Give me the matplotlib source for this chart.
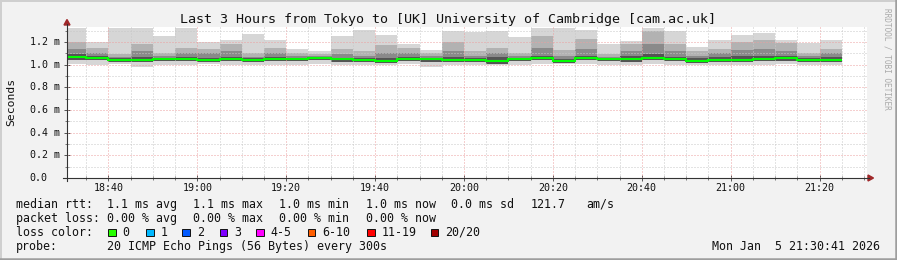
import matplotlib
matplotlib.use("Agg")
import matplotlib.pyplot as plt
from matplotlib.patches import Rectangle, Polygon
from matplotlib.lines import Line2D
import matplotlib.transforms as mtransforms

# ---------------- data (ms) ----------------
# time in minutes after 18:00 ; first bin partial (starts at 18:30:41)
bin_edges = [30.683, 35, 40, 45, 50, 55, 60, 65, 70, 75, 80, 85, 90, 95, 100, 105, 110,
             115, 120, 125, 130, 135, 140, 145, 150, 155, 160, 165, 170, 175, 180, 185,
             190, 195, 200, 205]
rtt_max = [1.32, 1.20, 1.32, 1.32, 1.25, 1.32, 1.20, 1.22, 1.27, 1.22, 1.14, 1.12, 1.25, 1.31,
           1.26, 1.18, 1.13, 1.30, 1.29, 1.30, 1.24, 1.32, 1.32, 1.31, 1.18, 1.21, 1.32, 1.30,
           1.16, 1.22, 1.26, 1.28, 1.22, 1.19, 1.22]
rtt_p90 = [1.20, 1.15, 1.09, 1.18, 1.10, 1.15, 1.14, 1.18, 1.10, 1.15, 1.10, 1.09, 1.14, 1.12,
           1.17, 1.15, 1.10, 1.20, 1.12, 1.15, 1.10, 1.25, 1.13, 1.23, 1.09, 1.18, 1.30, 1.18,
           1.12, 1.14, 1.20, 1.22, 1.19, 1.10, 1.14]
rtt_p75 = [1.14, 1.10, 1.07, 1.12, 1.08, 1.10, 1.10, 1.12, 1.07, 1.10, 1.08, 1.075, 1.09, 1.08,
           1.10, 1.10, 1.08, 1.12, 1.08, 1.10, 1.08, 1.15, 1.08, 1.14, 1.07, 1.12, 1.18, 1.12,
           1.08, 1.10, 1.13, 1.14, 1.12, 1.08, 1.10]
rtt_p60 = [1.09, 1.08, 1.055, 1.07, 1.06, 1.065, 1.06, 1.07, 1.055, 1.065, 1.06, 1.065, 1.06, 1.055,
           1.06, 1.07, 1.06, 1.07, 1.06, 1.07, 1.06, 1.08, 1.05, 1.08, 1.06, 1.08, 1.09, 1.07,
           1.06, 1.07, 1.08, 1.08, 1.08, 1.06, 1.07]
rtt_median = [1.07, 1.062, 1.045, 1.045, 1.05, 1.05, 1.04, 1.05, 1.045, 1.05, 1.05, 1.06, 1.046, 1.04,
              1.036, 1.05, 1.05, 1.04, 1.045, 1.03, 1.05, 1.06, 1.03, 1.06, 1.05, 1.05, 1.06, 1.05,
              1.036, 1.045, 1.045, 1.05, 1.06, 1.045, 1.045]
rtt_p25 = [1.045, 1.04, 1.025, 1.02, 1.03, 1.03, 1.02, 1.03, 1.025, 1.03, 1.03, 1.04, 1.025, 1.02,
           1.015, 1.03, 1.025, 1.02, 1.025, 1.01, 1.03, 1.04, 1.015, 1.04, 1.03, 1.025, 1.04, 1.03,
           1.015, 1.025, 1.025, 1.03, 1.035, 1.025, 1.025]
rtt_min = [1.01, 1.0, 1.01, 0.98, 0.995, 0.995, 1.005, 1.0, 0.995, 0.995, 0.995, 1.01, 0.995, 0.995,
           1.0, 1.005, 0.98, 0.995, 1.0, 0.995, 1.0, 1.005, 1.005, 1.01, 0.995, 0.995, 1.01, 1.0,
           1.0, 0.995, 1.0, 1.0, 1.005, 0.995, 0.995]

x_major = [40, 60, 80, 100, 120, 140, 160, 180, 200]
x_labels = ["18:40", "19:00", "19:20", "19:40", "20:00", "20:20", "20:40", "21:00", "21:20"]
y_major = [0.0, 0.2, 0.4, 0.6, 0.8, 1.0, 1.2]
y_labels = ["0.0", "0.2 m", "0.4 m", "0.6 m", "0.8 m", "1.0 m", "1.2 m"]

loss_labels = ["0", "1", "2", "3", "4-5", "6-10", "11-19", "20/20"]
loss_colors = ["#26ff00", "#00b8ff", "#0059ff", "#7e00ff", "#ff00ff", "#ff5e00", "#ff0000", "#a10000"]

# ---------------- figure ----------------
W, H = 897, 260
BG = "#f2f2f2"
MONO = "DejaVu Sans Mono"
fig = plt.figure(figsize=(W / 100, H / 100), dpi=100, facecolor=BG)

def fx(px):
    return px / W

def fy(py):
    return 1 - py / H

ax_l, ax_r, ax_t, ax_b = 67, 867, 27, 178
ax = fig.add_axes([fx(ax_l), fy(ax_b), (ax_r - ax_l) / W, (ax_b - ax_t) / H])
ax.set_facecolor("white")
ax.set_xlim(30.683, 210.683)
ax.set_ylim(0, (ax_b - ax_t) / (136 / 1.2))
for s in ax.spines.values():
    s.set_visible(False)

# smoke layers
ax.stairs(rtt_max, bin_edges, baseline=rtt_min, fill=True, color="#d6d6d6", lw=0, zorder=2)
ax.stairs(rtt_p90, bin_edges, baseline=rtt_p25, fill=True, color="#b2b2b2", lw=0, zorder=3)
ax.stairs(rtt_p75, bin_edges, baseline=rtt_p25, fill=True, color="#8a8a8a", lw=0, zorder=4)
ax.stairs(rtt_p60, bin_edges, baseline=rtt_p25, fill=True, color="#545454", lw=0, zorder=5)

# grid
gkw = dict(lw=0.72, dashes=(1, 2))
for m in range(35, 211, 5):
    if m in x_major:
        ax.axvline(m, color="#eda0a0", zorder=6, **gkw)
    else:
        ax.axvline(m, color="#c8c8c8", zorder=6, **gkw)
for i in range(1, 14):
    v = i / 10
    if i % 2 == 0:
        ax.axhline(v, color="#eda0a0", zorder=6, **gkw)
    else:
        ax.axhline(v, color="#c8c8c8", zorder=6, **gkw)

# median line
ax.stairs(rtt_median, bin_edges, baseline=None, color="#00ff00", lw=1.5, zorder=8)

# ticks
ax.set_xticks(x_major, labels=x_labels)
ax.set_xticks(list(range(35, 211, 5)), minor=True)
ax.set_yticks(y_major, labels=[""] * len(y_major))
ax.set_yticks([0.1, 0.3, 0.5, 0.7, 0.9, 1.1, 1.3], minor=True)
ax.tick_params(axis="both", which="major", direction="inout", length=4, width=0.7, color="#555555")
ax.tick_params(axis="both", which="minor", direction="inout", length=2.5, width=0.7, color="#777777")
ax.tick_params(axis="x", which="major", pad=1.5, labelsize=7.2, labelcolor="#111111")
for t in ax.get_xticklabels():
    t.set_fontfamily(MONO)

ytr = mtransforms.blended_transform_factory(fig.transFigure, ax.transData)
for v, lab in zip(y_major, y_labels):
    ax.text(fx(29.5), v, lab, transform=ytr, ha="left", va="center",
            fontsize=7.2, family=MONO, color="#111111")

# axis lines & arrows
fig.add_artist(Line2D([fx(67), fx(67)], [fy(181), fy(24)], color="#333333", lw=0.8))
fig.add_artist(Line2D([fx(63), fx(869)], [fy(178), fy(178)], color="#333333", lw=0.8))
arrow_c = "#a0282a"
fig.add_artist(Polygon([[fx(64), fy(25)], [fx(70), fy(25)], [fx(67), fy(19.5)]],
                       closed=True, color=arrow_c, transform=fig.transFigure))
fig.add_artist(Polygon([[fx(868), fy(175)], [fx(868), fy(181)], [fx(873.5), fy(178)]],
                       closed=True, color=arrow_c, transform=fig.transFigure))

# title & labels
fig.text(fx(448), fy(19.5), "Last 3 Hours from Tokyo to [UK] University of Cambridge [cam.ac.uk]",
         ha="center", va="center", fontsize=9.6, family=MONO, color="#111111")
fig.text(fx(11), fy(102), "Seconds", rotation=90, ha="center", va="center",
         fontsize=8.2, family=MONO, color="#111111")
fig.text(fx(886.5), fy(59), "RRDTOOL / TOBI OETIKER", rotation=270, ha="center", va="center",
         fontsize=5.6, family=MONO, color="#aaaaaa")

# legend
tkw = dict(ha="left", va="center", fontsize=8.4, family=MONO, color="#111111")
line1 = [(16, "median rtt:"), (107.3, "1.1 ms avg"), (193.3, "1.1 ms max"), (279.3, "1.0 ms min"),
         (365.7, "1.0 ms now"), (451, "0.0 ms sd"), (530.7, "121.7"), (586.7, "am/s")]
line2 = [(16, "packet loss:"), (107.3, "0.00 % avg"), (193.3, "0.00 % max"), (279.3, "0.00 % min"),
         (365.7, "0.00 % now")]
for x, s in line1:
    fig.text(fx(x), fy(204.3), s, **tkw)
for x, s in line2:
    fig.text(fx(x), fy(218.3), s, **tkw)
fig.text(fx(16), fy(232.3), "loss color:", **tkw)
lab_x = [122.7, 160.7, 196.7, 234.3, 270.7, 322.0, 381.7, 445.0]
for lx, lab, col in zip(lab_x, loss_labels, loss_colors):
    fig.add_artist(Rectangle((fx(lx - 14.4), fy(236)), 7.5 / W, 7.5 / H, transform=fig.transFigure,
                             facecolor=col, edgecolor="#111111", lw=0.7))
    fig.text(fx(lx), fy(232.3), lab, **tkw)
fig.text(fx(16), fy(246.3), "probe:", **tkw)
fig.text(fx(107.3), fy(246.3), "20 ICMP Echo Pings (56 Bytes) every 300s", **tkw)
fig.text(fx(880), fy(246.3), "Mon Jan  5 21:30:41 2026", ha="right", va="center",
         fontsize=8.4, family=MONO, color="#111111")

# 3D frame
fig.add_artist(Line2D([0, 1], [fy(0.5), fy(0.5)], color="#cfcfcf", lw=1.4))
fig.add_artist(Line2D([fx(0.5), fx(0.5)], [0, 1], color="#cfcfcf", lw=1.4))
fig.add_artist(Line2D([0, 1], [fy(258.8), fy(258.8)], color="#9e9e9e", lw=1.8))
fig.add_artist(Line2D([fx(895.8), fx(895.8)], [0, 1], color="#9e9e9e", lw=1.8))

fig.savefig("out.png", dpi=100, facecolor=BG)
